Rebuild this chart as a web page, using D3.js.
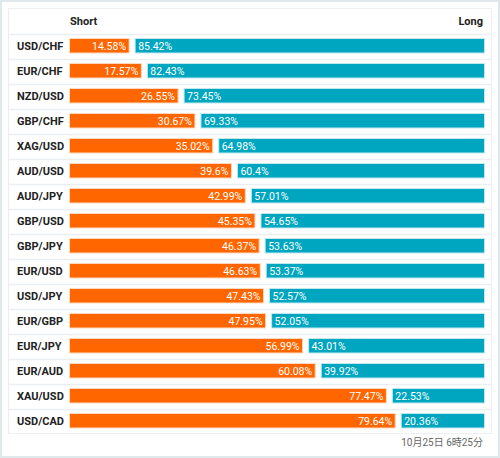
<!DOCTYPE html>
<html><head><meta charset="utf-8">
<script src="https://cdn.jsdelivr.net/npm/d3@7"></script>
<style>body{margin:0;background:#fff;}svg{display:block;font-family:Roboto,"Noto Sans CJK JP",sans-serif;}</style>
</head><body>
<script>
const pairs = ["USD/CHF","EUR/CHF","NZD/USD","GBP/CHF","XAG/USD","AUD/USD","AUD/JPY","GBP/USD","GBP/JPY","EUR/USD","USD/JPY","EUR/GBP","EUR/JPY","EUR/AUD","XAU/USD","USD/CAD"];
const shortPct = [14.58,17.57,26.55,30.67,35.02,39.6,42.99,45.35,46.37,46.63,47.43,47.95,56.99,60.08,77.47,79.64];
const longPct = [85.42,82.43,73.45,69.33,64.98,60.4,57.01,54.65,53.63,53.37,52.57,52.05,43.01,39.92,22.53,20.36];
const headers = ["Short","Long"];
const stamp = "10月25日 6時25分";

const W=500,H=458;
const svg=d3.select("body").append("svg").attr("width",W).attr("height",H);
svg.append("rect").attr("x",1).attr("y",1).attr("width",W-2).attr("height",H-2).attr("fill","#fff").attr("stroke","#dfe8ea").attr("stroke-width",2);
const tL=8.5,tR=491.5,tT=8.5,headH=25,rowH=25;
const tB=tT+headH+pairs.length*rowH;
svg.append("rect").attr("x",tL).attr("y",tT).attr("width",tR-tL).attr("height",tB-tT).attr("fill","#fff").attr("stroke","#eceff1");

const y=d3.scaleBand().domain(pairs).range([tT+headH,tB]);
const barL=69.5,barR=484.5,gap=6;
const x=d3.scaleLinear().domain([0,100]).range([0,barR-barL-gap]);

svg.append("text").attr("x",70).attr("y",tT+16).attr("font-size",11).attr("font-weight","bold").attr("fill","#222").text(headers[0]);
svg.append("text").attr("x",483).attr("y",tT+16).attr("text-anchor","end").attr("font-size",11).attr("font-weight","bold").attr("fill","#222").text(headers[1]);

const rows=svg.selectAll("g.row").data(pairs.map((p,i)=>({p,s:shortPct[i],l:longPct[i]}))).join("g").attr("class","row");
rows.append("line").attr("x1",tL).attr("x2",tR).attr("y1",d=>Math.round(y(d.p))+0.5).attr("y2",d=>Math.round(y(d.p))+0.5).attr("stroke","#eceff1").attr("stroke-width",1.5);
rows.append("text").attr("x",17).attr("y",d=>y(d.p)+y.bandwidth()/2+4).attr("font-size",11).attr("font-weight","bold").attr("fill","#222").text(d=>d.p);
rows.append("rect").attr("x",barL).attr("y",d=>y(d.p)+5).attr("width",d=>x(d.s)).attr("height",14.5).attr("fill","#ff6600").attr("stroke","#ffd9bf").attr("stroke-width",1);
rows.append("rect").attr("x",d=>barL+x(d.s)+gap).attr("y",d=>y(d.p)+5).attr("width",d=>x(d.l)).attr("height",14.5).attr("fill","#00a6c0").attr("stroke","#bfe9ef").attr("stroke-width",1);
rows.append("text").attr("x",d=>barL+x(d.s)-3).attr("y",d=>y(d.p)+y.bandwidth()/2+4).attr("text-anchor","end").attr("font-size",10.5).attr("fill","#fff").text(d=>d.s+"%");
rows.append("text").attr("x",d=>barL+x(d.s)+gap+3).attr("y",d=>y(d.p)+y.bandwidth()/2+4).attr("font-size",10.5).attr("fill","#fff").text(d=>d.l+"%");

svg.append("text").attr("x",483).attr("y",446).attr("text-anchor","end").attr("font-size",10).attr("fill","#666").text(stamp);
</script>
</body></html>
